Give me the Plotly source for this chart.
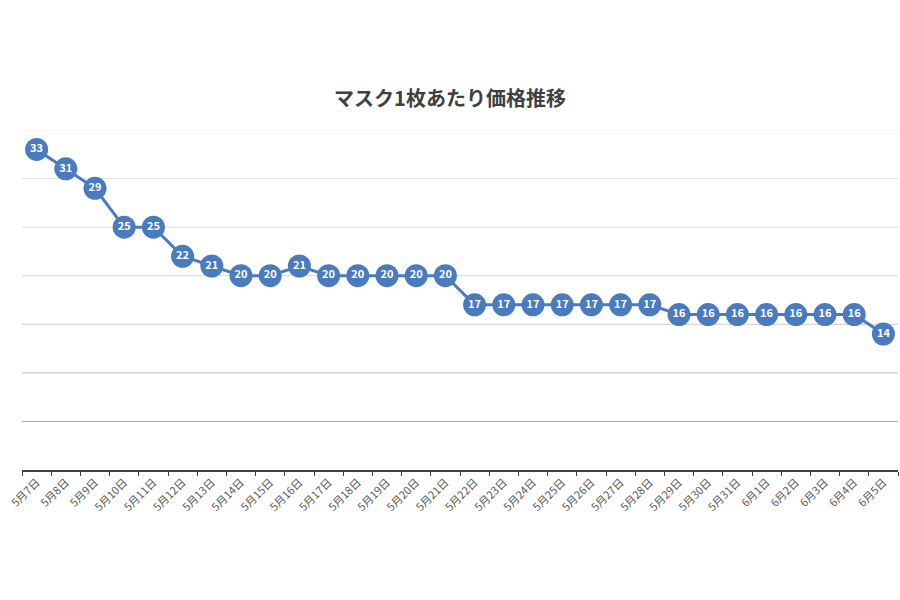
import plotly.graph_objects as go

dates = ["5月7日","5月8日","5月9日","5月10日","5月11日","5月12日","5月13日","5月14日","5月15日","5月16日",
         "5月17日","5月18日","5月19日","5月20日","5月21日","5月22日","5月23日","5月24日","5月25日","5月26日",
         "5月27日","5月28日","5月29日","5月30日","5月31日","6月1日","6月2日","6月3日","6月4日","6月5日"]
prices = [33,31,29,25,25,22,21,20,20,21,
          20,20,20,20,20,17,17,17,17,17,
          17,17,16,16,16,16,16,16,16,14]

grid_levels = [5, 10, 15, 20, 25, 30, 35]
grid_colors = ["#a9a9a9", "#bfbfbf", "#cccccc", "#d6d6d6", "#dedede", "#e4e4e4", "#ececec"]

font_family = "Noto Sans CJK JP"
blue = "#4a7bbf"

fig = go.Figure()
fig.add_trace(go.Scatter(
    x=dates, y=prices, mode="lines+markers+text",
    text=[str(v) for v in prices], textposition="middle center",
    textfont=dict(color="white", size=11, family=font_family, weight="bold"),
    line=dict(color=blue, width=3),
    marker=dict(size=23, color=blue, line=dict(color=blue, width=0)),
    cliponaxis=False, hoverinfo="x+y",
))

for lvl, col in zip(grid_levels, grid_colors):
    fig.add_shape(type="line", xref="paper", x0=0, x1=1, yref="y", y0=lvl, y1=lvl,
                  line=dict(color=col, width=1), layer="below")

fig.update_layout(
    width=900, height=600,
    paper_bgcolor="white", plot_bgcolor="white",
    margin=dict(l=22, r=2, t=130, b=130),
    title=dict(text="<b>マスク1枚あたり価格推移</b>", x=0.5, xanchor="center", y=0.835, yanchor="middle",
               font=dict(family=font_family, size=20, color="#404040")),
    showlegend=False,
    font=dict(family=font_family),
)
fig.update_xaxes(
    type="category", range=[-0.5, len(dates) - 0.5],
    tickangle=-45, tickfont=dict(size=11, color="#595959", family=font_family),
    showline=True, linecolor="#404040", linewidth=1.5,
    ticks="outside", ticklen=4, tickcolor="#404040", tickson="boundaries",
    showgrid=False, zeroline=False,
)
fig.update_yaxes(
    range=[0, 35], showticklabels=False,
    showgrid=False, zeroline=False, showline=False,
)

fig.write_html("out.html")
